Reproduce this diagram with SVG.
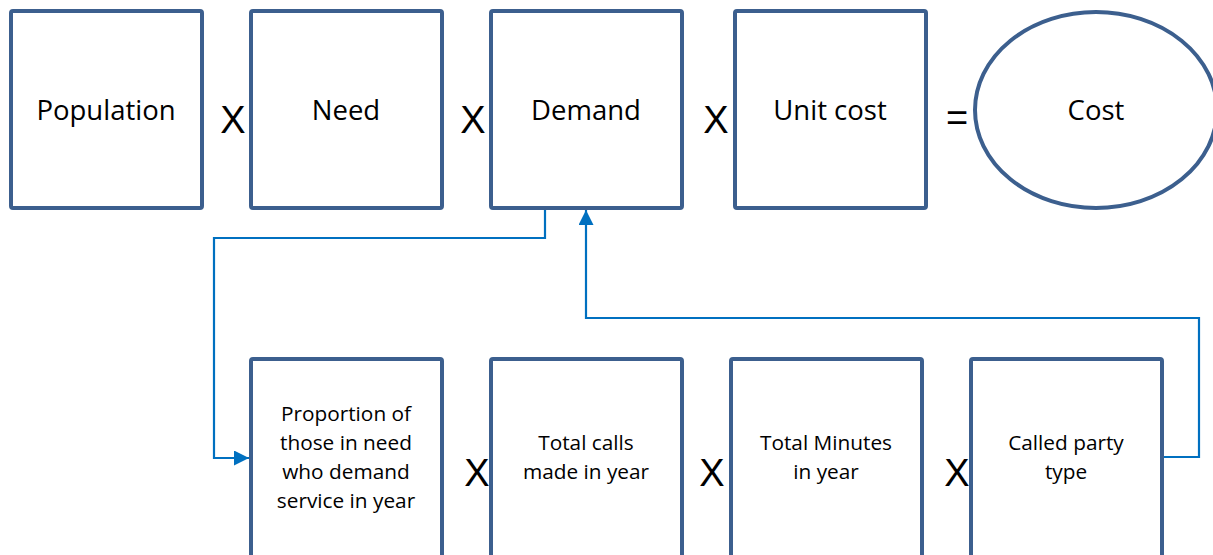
<svg xmlns="http://www.w3.org/2000/svg" width="1213" height="555" viewBox="0 0 1213 555">
<style>
.box{fill:#fff;stroke:#3C5F8E;stroke-width:4}
.t{font-family:"Open Sans","Liberation Sans",sans-serif;fill:#000;text-anchor:middle}
.big{font-size:27.5px}
.sm{font-size:20.8px}
.op{font-family:"Liberation Sans",sans-serif;font-size:38px;text-anchor:middle;fill:#000}
.c{fill:none;stroke:#0070C0;stroke-width:2.2}
</style>
<defs>
<marker id="ah2" viewBox="0 0 10 10" refX="10" refY="5" markerWidth="15" markerHeight="15" markerUnits="userSpaceOnUse" orient="auto">
<path d="M0,0 L10,5 L0,10 z" fill="#0070C0"/>
</marker>
</defs>
<g id="connectors">
<polyline class="c" points="545,210 545,238 214,238 214,458 249,458" marker-end="url(#ah2)"/>
<polyline class="c" points="1163,457 1199,457 1199,318 586,318 586,210" marker-end="url(#ah2)"/>
</g>
<g id="population"><rect class="box" x="11" y="11" width="191" height="197" rx="2"/><text class="t big" x="106" y="120">Population</text></g>
<text class="op" x="233" y="133">X</text>
<g id="need"><rect class="box" x="251" y="11" width="191" height="197" rx="2"/><text class="t big" x="346" y="120">Need</text></g>
<text class="op" x="473" y="133">X</text>
<g id="demand"><rect class="box" x="491" y="11" width="191" height="197" rx="2"/><text class="t big" x="586" y="120">Demand</text></g>
<text class="op" x="716" y="133">X</text>
<g id="unitcost"><rect class="box" x="735" y="11" width="191" height="197" rx="2"/><text class="t big" x="830" y="120">Unit cost</text></g>
<text class="op" x="957" y="131">=</text>
<g id="cost"><ellipse class="box" cx="1096" cy="110" rx="121" ry="98"/><text class="t big" x="1096" y="120">Cost</text></g>
<g id="proportion"><rect class="box" x="251" y="359" width="191" height="210" rx="2"/>
<text class="t sm" x="346" y="421">Proportion of</text>
<text class="t sm" x="346" y="450">those in need</text>
<text class="t sm" x="346" y="479">who demand</text>
<text class="t sm" x="346" y="508">service in year</text></g>
<text class="op" x="477" y="486">X</text>
<g id="totalcalls"><rect class="box" x="491" y="359" width="191" height="210" rx="2"/>
<text class="t sm" x="586" y="450">Total calls</text>
<text class="t sm" x="586" y="479">made in year</text></g>
<text class="op" x="712" y="486">X</text>
<g id="totalminutes"><rect class="box" x="731" y="359" width="191" height="210" rx="2"/>
<text class="t sm" x="826" y="450">Total Minutes</text>
<text class="t sm" x="826" y="479">in year</text></g>
<text class="op" x="957" y="486">X</text>
<g id="calledparty"><rect class="box" x="971" y="359" width="191" height="210" rx="2"/>
<text class="t sm" x="1066" y="450">Called party</text>
<text class="t sm" x="1066" y="479">type</text></g>
</svg>
